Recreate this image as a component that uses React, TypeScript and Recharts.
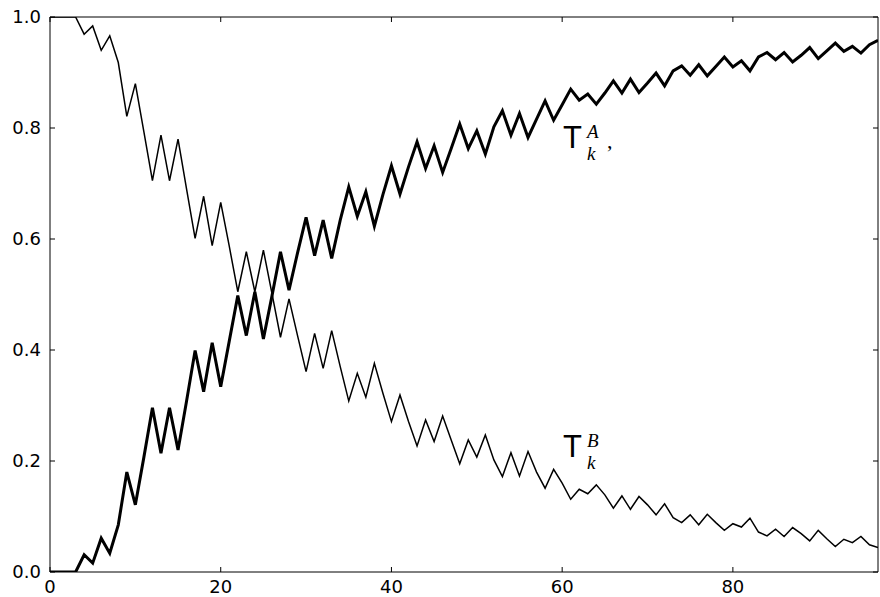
import { LineChart, Line, XAxis, YAxis } from "recharts";

// T_k^A (thick curve) for k = 0..97
const tkA = [
  0, 0, 0, 0, 0.031, 0.016, 0.061, 0.034, 0.085, 0.18,
  0.121, 0.207, 0.296, 0.214, 0.296, 0.22, 0.308, 0.399, 0.325, 0.413,
  0.334, 0.416, 0.498, 0.426, 0.505, 0.42, 0.497, 0.577, 0.508, 0.575,
  0.639, 0.57, 0.634, 0.565, 0.634, 0.694, 0.641, 0.685, 0.623, 0.68,
  0.732, 0.681, 0.73, 0.775, 0.727, 0.768, 0.72, 0.763, 0.807, 0.763,
  0.795, 0.753, 0.802, 0.831, 0.787, 0.826, 0.783, 0.816, 0.849, 0.814,
  0.842, 0.87, 0.85, 0.861, 0.843, 0.863, 0.885, 0.863, 0.888, 0.864,
  0.881, 0.899, 0.876, 0.903, 0.912, 0.895, 0.914, 0.894, 0.911, 0.928,
  0.91, 0.921, 0.903, 0.928, 0.936, 0.923, 0.936, 0.919, 0.931, 0.945,
  0.925, 0.939, 0.953, 0.938, 0.947, 0.935, 0.95, 0.958,
];

// T_k^B (thin curve)
const tkB = [
  1, 1, 1, 1, 0.969, 0.984, 0.94, 0.966, 0.918, 0.821,
  0.88, 0.793, 0.705, 0.787, 0.705, 0.78, 0.69, 0.601, 0.677, 0.588,
  0.666, 0.587, 0.505, 0.577, 0.505, 0.58, 0.502, 0.423, 0.492, 0.426,
  0.361, 0.43, 0.367, 0.435, 0.37, 0.308, 0.358, 0.315, 0.376, 0.322,
  0.271, 0.319, 0.271, 0.227, 0.274, 0.235, 0.281, 0.238, 0.195, 0.238,
  0.207, 0.247, 0.202, 0.172, 0.215, 0.173, 0.217, 0.18, 0.151, 0.185,
  0.16, 0.131, 0.149, 0.141, 0.157, 0.139, 0.115, 0.137, 0.113, 0.136,
  0.121, 0.103, 0.123, 0.098, 0.089, 0.103, 0.085, 0.104, 0.089, 0.075,
  0.087, 0.081, 0.097, 0.072, 0.065, 0.077, 0.064, 0.08, 0.069, 0.056,
  0.075, 0.06, 0.046, 0.059, 0.053, 0.064, 0.049, 0.044,
];

const xTicks = [0, 20, 40, 60, 80];
const yTicks = [0, 0.2, 0.4, 0.6, 0.8, 1.0];

const data = tkA.map((a, k) => ({ k, a, b: tkB[k] }));

const tickFont = "DejaVu Sans, sans-serif";

function BottomTick({ x, y, payload }: any) {
  return (
    <g>
      <line x1={x} y1={y} x2={x} y2={y - 5} stroke="#000" />
      <text x={x} y={y + 21} textAnchor="middle" fontSize={18} fontFamily={tickFont} fill="#000">
        {payload.value}
      </text>
    </g>
  );
}

function LeftTick({ x, y, payload }: any) {
  return (
    <g>
      <line x1={x} y1={y} x2={x + 5} y2={y} stroke="#000" />
      <text x={x - 9} y={y + 6} textAnchor="end" fontSize={18} fontFamily={tickFont} fill="#000">
        {payload.value.toFixed(1)}
      </text>
    </g>
  );
}

function TopTick({ x, y }: any) {
  return <line x1={x} y1={y} x2={x} y2={y + 5} stroke="#000" />;
}

function RightTick({ x, y }: any) {
  return <line x1={x} y1={y} x2={x - 5} y2={y} stroke="#000" />;
}

function CurveLabel({ x, y, sup, comma }: { x: number; y: number; sup: string; comma?: boolean }) {
  const serif = "Liberation Serif, serif";
  return (
    <g>
      <text x={x} y={y} fontSize={31} fontFamily="Liberation Sans, sans-serif" fill="#000">
        T
      </text>
      <text x={x + 24} y={y - 10} fontSize={19} fontStyle="italic" fontFamily={serif} fill="#000">
        {sup}
      </text>
      <text x={x + 24} y={y + 12} fontSize={19} fontStyle="italic" fontFamily={serif} fill="#000">
        k
      </text>
      {comma && (
        <text x={x + 44} y={y} fontSize={22} fontFamily={serif} fill="#000">
          ,
        </text>
      )}
    </g>
  );
}

export default function App() {
  return (
    <div style={{ position: "absolute", left: 0, top: 0, width: 880, height: 597, background: "#fff" }}>
      <LineChart width={880} height={597} data={data} margin={{ top: 16, right: 1, bottom: 0, left: 0 }}>
        <XAxis
          xAxisId="bottom"
          dataKey="k"
          type="number"
          domain={[0, 97]}
          ticks={xTicks}
          allowDataOverflow
          height={25}
          tickSize={0}
          tickMargin={0}
          tickLine={false}
          axisLine={{ stroke: "#000" }}
          tick={<BottomTick />}
        />
        <XAxis
          xAxisId="top"
          orientation="top"
          dataKey="k"
          type="number"
          domain={[0, 97]}
          ticks={xTicks}
          allowDataOverflow
          height={1}
          tickSize={0}
          tickMargin={0}
          tickLine={false}
          axisLine={{ stroke: "#000" }}
          tick={<TopTick />}
        />
        <YAxis
          yAxisId="left"
          type="number"
          domain={[0, 1]}
          ticks={yTicks}
          allowDataOverflow
          width={50}
          tickSize={0}
          tickMargin={0}
          tickLine={false}
          axisLine={{ stroke: "#000" }}
          tick={<LeftTick />}
        />
        <YAxis
          yAxisId="right"
          orientation="right"
          type="number"
          domain={[0, 1]}
          ticks={yTicks}
          allowDataOverflow
          width={1}
          tickSize={0}
          tickMargin={0}
          tickLine={false}
          axisLine={{ stroke: "#000" }}
          tick={<RightTick />}
        />
        <Line
          xAxisId="top"
          yAxisId="right"
          type="linear"
          dataKey="b"
          stroke="#000"
          strokeWidth={1.5}
          dot={false}
          isAnimationActive={false}
        />
        <Line
          xAxisId="bottom"
          yAxisId="left"
          type="linear"
          dataKey="a"
          stroke="#000"
          strokeWidth={3}
          dot={false}
          isAnimationActive={false}
        />
      </LineChart>
      <svg
        width={880}
        height={597}
        style={{ position: "absolute", left: 0, top: 0, pointerEvents: "none" }}
      >
        <CurveLabel x={563} y={148} sup="A" comma />
        <CurveLabel x={563} y={457} sup="B" />
      </svg>
    </div>
  );
}
